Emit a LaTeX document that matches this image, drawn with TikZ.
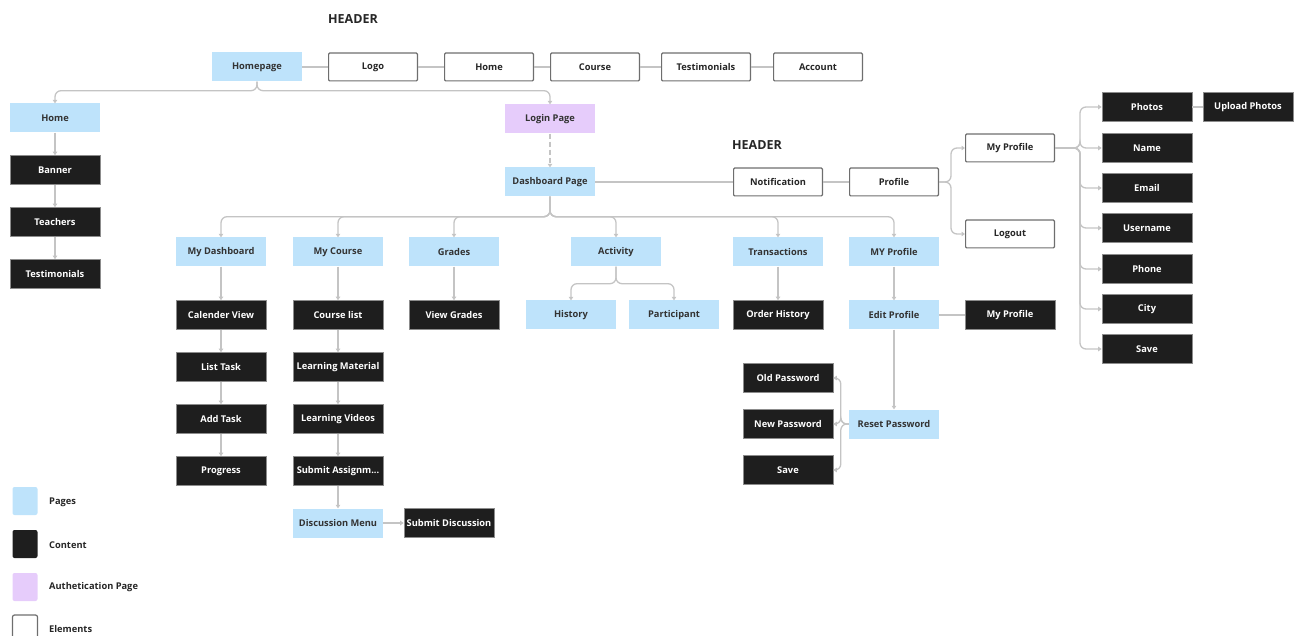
\documentclass[tikz,border=0pt]{standalone}
\usepackage{fontspec}
\setmainfont{Open Sans}
\usetikzlibrary{arrows.meta}

\definecolor{pageblue}{HTML}{BEE3FB}
\definecolor{authlilac}{HTML}{E6CCFB}
\definecolor{contentdark}{HTML}{1E1E1E}
\definecolor{linkgray}{HTML}{C4C4C4}
\definecolor{edgegray}{HTML}{6E6E6E}

\tikzset{
  box/.style={minimum width=90pt, minimum height=29pt, inner sep=0pt,
    font=\bfseries\fontsize{9.3}{11}\selectfont},
  page/.style={box, fill=pageblue, text=black!80},
  content/.style={box, fill=contentdark, draw=black!45, line width=0.6pt, text=white},
  auth/.style={box, fill=authlilac, text=black!80},
  element/.style={box, draw=edgegray, line width=1.2pt, fill=white, text=black!85,
    rounded corners=1pt, minimum width=88.8pt, minimum height=27.8pt},
  link/.style={draw=linkgray, line width=1.3pt},
  tree/.style={link, rounded corners=6pt, -{Triangle[width=4.5pt,length=3.5pt]}},
  dashlink/.style={tree, dash pattern=on 5pt off 3pt},
  heading/.style={font=\bfseries\fontsize{12.5}{14}\selectfont, text=black!85},
  swatch/.style={minimum width=25pt, minimum height=28pt, rounded corners=2pt, inner sep=0pt},
  keytext/.style={anchor=west, inner sep=0pt, font=\bfseries\fontsize{9.3}{11}\selectfont, text=black!85}
}

\begin{document}
\begin{tikzpicture}[x=1pt, y=-1pt]
  \useasboundingbox (0,0) rectangle (1299,636);
  \clip (0,0) rectangle (1299,636);

  % header of the public site
  \node[heading] (hdrtop) at (353,19) {HEADER};
  \node[page]    (homepage) at (257,67) {Homepage};
  \node[element] (logo)     at (373,67) {Logo};
  \node[element] (navhome)  at (489,67) {Home};
  \node[element] (navcourse) at (595,67) {Course};
  \node[element] (navtesti) at (706,67) {Testimonials};
  \node[element] (navacct)  at (818,67) {Account};
  \draw[link] (homepage) -- (logo) -- (navhome) -- (navcourse) -- (navtesti) -- (navacct);

  % public home page
  \node[page]    (home)    at (55,118) {Home};
  \node[content] (banner)  at (55,170) {Banner};
  \node[content] (teacher) at (55,222) {Teachers};
  \node[content] (testi)   at (55,274) {Testimonials};
  \draw[tree] (home) -- (banner);
  \draw[tree] (banner) -- (teacher);
  \draw[tree] (teacher) -- (testi);

  % login and dashboard
  \node[auth] (login) at (550,119) {Login Page};
  \node[page] (dash)  at (550,182) {Dashboard Page};
  \draw[tree] (homepage.south) -- ++(0,9) -| (home.north);
  \draw[tree] (homepage.south) -- ++(0,9) -| (login.north);
  \draw[dashlink] (login) -- (dash);

  % header of the dashboard
  \node[heading] (hdrdash) at (757,145) {HEADER};
  \node[element] (notif)   at (778,182) {Notification};
  \node[element] (profile) at (894,182) {Profile};
  \node[element] (myprof)  at (1010,148) {My Profile};
  \node[element] (logout)  at (1010,234) {Logout};
  \draw[link] (dash) -- (notif) -- (profile);
  \draw[tree] (profile.east) -- ++(12,0) |- (myprof.west);
  \draw[tree] (profile.east) -- ++(12,0) |- (logout.west);

  % profile fields
  \node[content] (photos) at (1147,107) {Photos};
  \node[content] (upload) at (1248,107) {Upload Photos};
  \node[content] (fname)  at (1147,148) {Name};
  \node[content] (femail) at (1147,188) {Email};
  \node[content] (fuser)  at (1147,228) {Username};
  \node[content] (fphone) at (1147,269) {Phone};
  \node[content] (fcity)  at (1147,309) {City};
  \node[content] (fsave)  at (1147,349) {Save};
  \draw[link] (photos) -- (upload);
  \foreach \f in {photos,fname,femail,fuser,fphone,fcity,fsave}
    \draw[tree] (myprof.east) -- ++(25,0) |- (\f.west);

  % dashboard pages
  \node[page] (mydash)  at (221,252) {My Dashboard};
  \node[page] (mycourse) at (338,252) {My Course};
  \node[page] (grades)  at (454,252) {Grades};
  \node[page] (activity) at (616,252) {Activity};
  \node[page] (trans)   at (778,252) {Transactions};
  \node[page] (myprofpg) at (894,252) {MY Profile};
  \foreach \p in {mydash,mycourse,grades,activity,trans,myprofpg}
    \draw[tree] (dash.south) -- ++(0,20) -| (\p.north);

  % my dashboard
  \node[content] (calview) at (221,315) {Calender View};
  \node[content] (listtask) at (221,367) {List Task};
  \node[content] (addtask) at (221,419) {Add Task};
  \node[content] (progress) at (221,471) {Progress};
  \draw[tree] (mydash) -- (calview);
  \draw[tree] (calview) -- (listtask);
  \draw[tree] (listtask) -- (addtask);
  \draw[tree] (addtask) -- (progress);

  % my course
  \node[content] (clist)   at (338,315) {Course list};
  \node[content] (lmat)    at (338,367) {Learning Material};
  \node[content] (lvid)    at (338,419) {Learning Videos};
  \node[content] (assign)  at (338,471) {Submit Assignm...};
  \node[page]    (discuss) at (338,523) {Discussion Menu};
  \node[content] (subdisc) at (449,523) {Submit Discussion};
  \draw[tree] (mycourse) -- (clist);
  \draw[tree] (clist) -- (lmat);
  \draw[tree] (lmat) -- (lvid);
  \draw[tree] (lvid) -- (assign);
  \draw[tree] (assign) -- (discuss);
  \draw[tree] (discuss) -- (subdisc);

  % grades, activity, transactions
  \node[content] (vgrades) at (454,315) {View Grades};
  \node[page]    (history) at (571,315) {History};
  \node[page]    (partic)  at (674,315) {Participant};
  \node[content] (orders)  at (778,315) {Order History};
  \draw[tree] (grades) -- (vgrades);
  \draw[tree] (activity.south) -- ++(0,17) -| (history.north);
  \draw[tree] (activity.south) -- ++(0,17) -| (partic.north);
  \draw[tree] (trans) -- (orders);

  % my profile page
  \node[page]    (editprof) at (894,315) {Edit Profile};
  \node[content] (myprofct) at (1010,315) {My Profile};
  \node[page]    (resetpw)  at (894,424) {Reset Password};
  \node[content] (oldpw)    at (788,378) {Old Password};
  \node[content] (newpw)    at (788,424) {New Password};
  \node[content] (savepw)   at (788,470) {Save};
  \draw[tree] (myprofpg) -- (editprof);
  \draw[link] (editprof) -- (myprofct);
  \draw[tree] (editprof) -- (resetpw);
  \foreach \w in {oldpw,newpw,savepw}
    \draw[tree] (resetpw.west) -- ++(-8,0) |- (\w.east);

  % legend
  \node[swatch, fill=pageblue]   (keypage) at (25,501) {};
  \node[swatch, fill=contentdark] (keycont) at (25,544) {};
  \node[swatch, fill=authlilac]  (keyauth) at (25,587) {};
  \node[swatch, draw=edgegray, line width=1.2pt] (keyelem) at (25,629) {};
  \node[keytext] (lblpage) at (49,502) {Pages};
  \node[keytext] (lblcont) at (49,545) {Content};
  \node[keytext] (lblauth) at (49,587) {Authetication Page};
  \node[keytext] (lblelem) at (49,629) {Elements};
\end{tikzpicture}
\end{document}
